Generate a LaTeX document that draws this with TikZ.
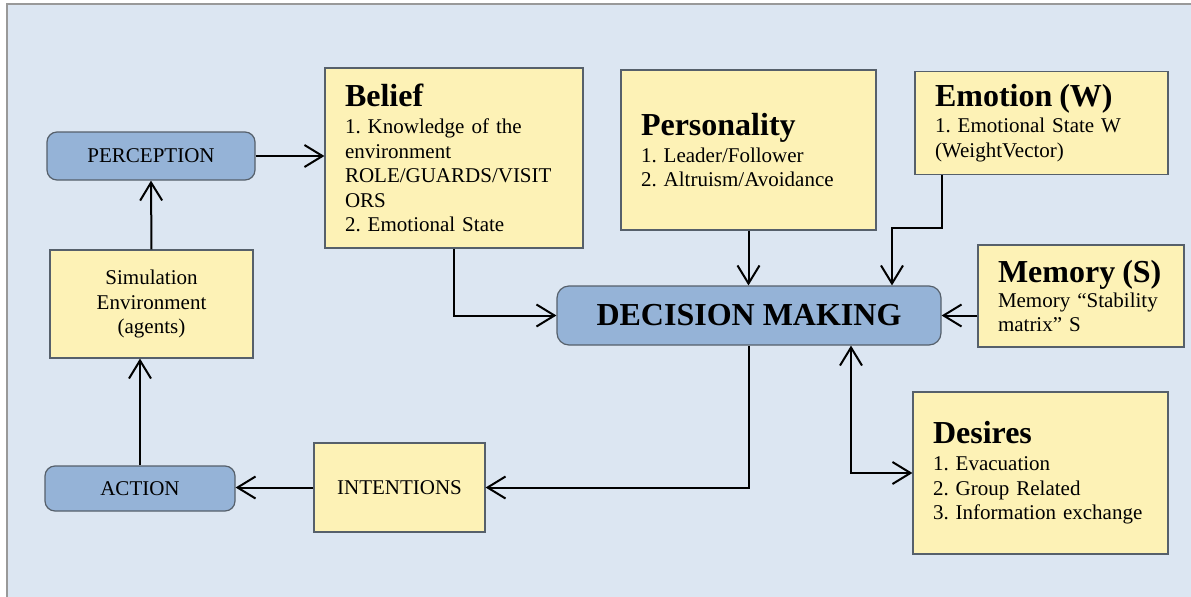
\documentclass[tikz,border=0pt]{standalone}
\usepackage{fontspec}
\setmainfont{Liberation Serif}
\usetikzlibrary{arrows.meta, positioning}
\definecolor{panel}{HTML}{DCE6F2}
\definecolor{stagefill}{HTML}{95B3D7}
\definecolor{notefill}{HTML}{FDF2B6}
\definecolor{edge}{HTML}{56606B}
\newcommand{\headfont}{\fontsize{16}{18}\selectfont\bfseries}
\frenchspacing

\begin{document}
\begin{tikzpicture}[x=0.5pt, y=-0.5pt,
  every node/.style={font=\fontsize{10.5}{12.3}\selectfont},
  stage/.style={draw=edge, line width=0.6pt, fill=stagefill, rounded corners=5pt, inner sep=0pt},
  note/.style={draw=edge, line width=0.6pt, fill=notefill, align=left, inner xsep=10pt, inner ysep=0pt},
  flow/.style={line width=1pt, -{Straight Barb[length=9pt, width=11pt]}}]

\useasboundingbox (0,0) rectangle (1191,596);

% Panel
\fill[panel] (7,4) rectangle (1200,600);
\draw[gray!80, line width=0.8pt] (7,600) -- (7,4) -- (1200,4);

% Left loop
\node[stage, minimum width=104pt, minimum height=24pt] (perception) at (151,156) {PERCEPTION};
\node[note, align=center, text width=81.5pt, minimum height=54pt] (simenv) at (151.5,304) {
    Simulation\\Environment\\(agents)
};
\node[stage, minimum width=95pt, minimum height=22.5pt] (action) at (140,488.5) {ACTION};
\node[note, align=center, text width=65.5pt, minimum height=44.5pt] (intentions) at (399.5,487.5) {INTENTIONS};

% Belief
\node[note, text width=109pt, minimum height=90pt] (belief) at (454,158) {
    {\headfont Belief}\\[1.2pt]
    1. Knowledge of the\\environment\\ROLE/GUARDS/VISIT\\ORS\\2. Emotional State
};

% Personality
\node[note, text width=107.5pt, minimum height=80pt] (personality) at (748.5,150) {
    {\headfont Personality}\\[1.2pt]
    1. Leader/Follower\\2. Altruism/Avoidance
};

% Emotion (W)
\node[note, text width=106.5pt, minimum height=51.5pt] (emotion) at (1041.5,123) {
    {\headfont Emotion (W)}\\[1pt]
    1. Emotional State W\\(WeightVector)
};

% Memory (S)
\node[note, text width=83pt, minimum height=51pt] (memory) at (1081,296) {
    {\headfont Memory (S)}\\
    Memory “Stability\\matrix” S
};

% Desires
\node[note, text width=107.5pt, minimum height=81pt] (desires) at (1040.5,473) {
    {\headfont Desires}\\[1.2pt]
    1. Evacuation\\2. Group Related\\3. Information exchange
};

% Decision making
\node[stage, rounded corners=6pt, minimum width=192pt, minimum height=29.5pt, font=\headfont] (decision) at (749,315.5) {DECISION MAKING};

% Connectors
\coordinate (emobend) at (892,228);
\draw[flow] (perception.east) -- (belief.west |- perception.east);
\draw[flow] (simenv.north) -- (perception.south);
\draw[flow] (action.north) -- (action.north |- simenv.south);
\draw[flow] (intentions.west) -- (action.east |- intentions.west);
\draw[flow] (decision.south) |- (intentions.east);
\draw[flow] (belief.south) |- (decision.west);
\draw[flow] (personality.south) -- (personality.south |- decision.north);
\draw[flow] ([xshift=14pt]emotion.south west) |- (emobend) -- (emobend |- decision.north);
\draw[flow] (memory.west |- decision.east) -- (decision.east);
\draw[flow, {Straight Barb[length=9pt, width=11pt]}-{Straight Barb[length=9pt, width=11pt]}] ([xshift=51pt]decision.south) |- (desires.west);

\end{tikzpicture}
\end{document}
